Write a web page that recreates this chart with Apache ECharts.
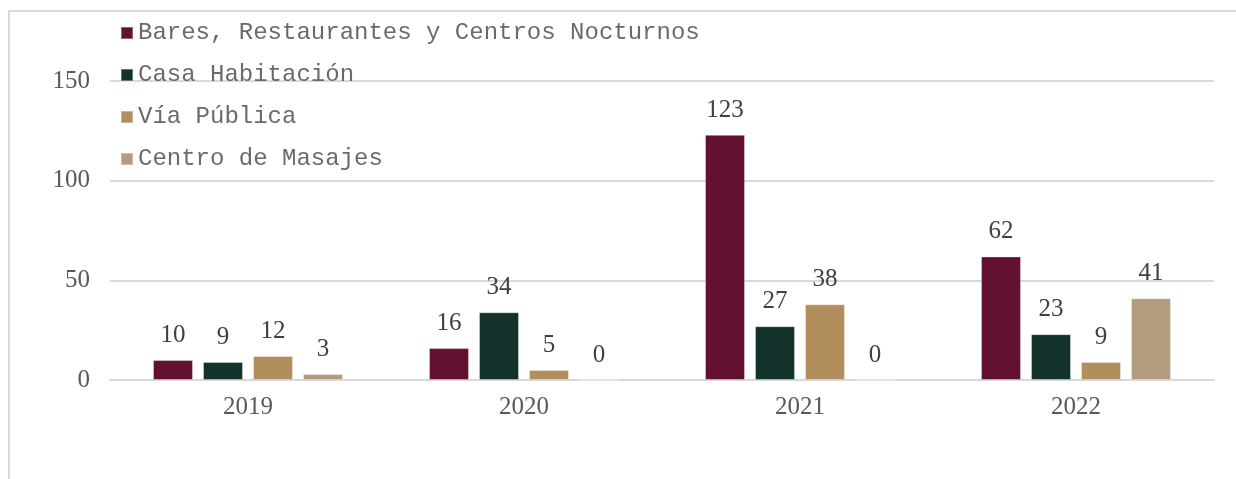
<!DOCTYPE html>
<html>
<head>
<meta charset="utf-8">
<script src="https://cdn.jsdelivr.net/npm/echarts@6/dist/echarts.min.js"></script>
<style>
  html, body { margin: 0; padding: 0; background: #ffffff; }
  #chart { width: 1236px; height: 479px; }
</style>
</head>
<body>
<div id="chart"></div>
<script>
// Incidents by location type and year
const years = ['2019', '2020', '2021', '2022'];
const seriesNames = [
  'Bares, Restaurantes y Centros Nocturnos',
  'Casa Habitación',
  'Vía Pública',
  'Centro de Masajes'
];
const bares = [10, 16, 123, 62];
const casa = [9, 34, 27, 23];
const viaPublica = [12, 5, 38, 9];
const masajes = [3, 0, 0, 41];
const yTicks = [0, 50, 100, 150];

const colors = ['#621132', '#13322B', '#B38E5D', '#B39C7D'];
const values = [bares, casa, viaPublica, masajes];

const serif = '"Liberation Serif", "Times New Roman", serif';

const chart = echarts.init(document.getElementById('chart'), null, { renderer: 'canvas' });

chart.setOption({
  animation: false,
  backgroundColor: '#ffffff',
  graphic: [{
    type: 'rect',
    shape: { x: 9, y: 11, width: 1240, height: 480 },
    style: { fill: 'none', stroke: '#d9d9d9', lineWidth: 2 },
    silent: true
  }],
  legend: {
    orient: 'vertical',
    left: 115,
    top: 16,
    itemWidth: 12,
    itemHeight: 12,
    itemGap: 18,
    icon: 'rect',
    textStyle: {
      fontFamily: '"Liberation Mono", "Courier New", monospace',
      fontSize: 24,
      lineHeight: 24,
      color: '#6a6a6a',
      padding: [0, 0, 0, 0]
    },
    data: seriesNames
  },
  grid: { left: 110, right: 22, top: 81, bottom: 99, containLabel: false },
  xAxis: {
    type: 'category',
    data: years,
    axisLine: { show: true, lineStyle: { color: '#d9d9d9', width: 2 } },
    axisTick: { show: false },
    axisLabel: {
      margin: 15,
      fontFamily: serif,
      fontSize: 25,
      color: '#595959'
    }
  },
  yAxis: {
    type: 'value',
    min: yTicks[0],
    max: yTicks[yTicks.length - 1],
    interval: yTicks[1] - yTicks[0],
    axisLine: { show: false },
    axisTick: { show: false },
    splitLine: { lineStyle: { color: '#d9d9d9', width: 2 } },
    axisLabel: {
      margin: 20,
      fontFamily: serif,
      fontSize: 25,
      color: '#595959'
    }
  },
  series: seriesNames.map((name, i) => ({
    name: name,
    type: 'bar',
    data: values[i],
    barWidth: 40,
    barGap: '25%',
    itemStyle: { color: colors[i], borderColor: 'rgba(255,255,255,0.35)', borderWidth: 1 },
    label: {
      show: true,
      position: 'top',
      distance: 12,
      fontFamily: serif,
      fontSize: 25,
      color: '#404040'
    }
  }))
});
</script>
</body>
</html>
